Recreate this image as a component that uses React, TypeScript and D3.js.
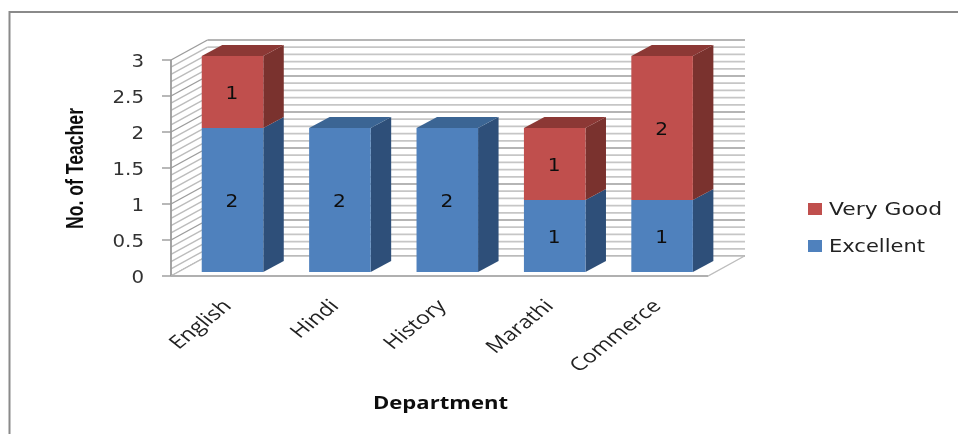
import React from "react";
import * as d3 from "d3";

const departments = ["English", "Hindi", "History", "Marathi", "Commerce"];
const excellent = [2, 2, 2, 1, 1];
const veryGood = [1, 0, 0, 1, 2];
const yTicks = [0, 0.5, 1, 1.5, 2, 2.5, 3];
const minorTicks = d3.range(0, 31).map((d) => d / 10);
const seriesNames = ["Excellent", "Very Good"];

const COLORS = {
  Excellent: { front: "#4F81BD", side: "#2F5079", top: "#3B6594" },
  "Very Good": { front: "#C0504D", side: "#7A302D", top: "#8C3935" },
} as Record<string, { front: string; side: string; top: string }>;

const DX = 36.5;
const DY = 20;
const BAR_DX = 20.5;
const BAR_DY = 11;
const BAR_DROP = 4;
const FONT = "'DejaVu Sans', sans-serif";

export default function App() {
  const y = d3.scaleLinear().domain([0, 3]).range([276, 60]);
  const x = d3.scaleBand<string>().domain(departments).range([178.8, 715.8]).paddingInner(0.427).paddingOuter(0.2135);
  const x0 = 171;
  const x1 = 708;
  const rows = departments.map((d, i) => ({ dept: d, Excellent: excellent[i], "Very Good": veryGood[i] }));
  const stacked = d3.stack<any>().keys(seriesNames)(rows);

  return (
    <svg width={958} height={434} style={{ position: "absolute", left: 0, top: 0, background: "#fff" }}>
      <defs>
        <filter id="soft" x="-2%" y="-2%" width="104%" height="104%">
          <feGaussianBlur stdDeviation="0.45" />
        </filter>
      </defs>
      <g filter="url(#soft)">
        <path d="M958,12 H9.5 V434" fill="none" stroke="#8a8a8a" strokeWidth={2} />

        {/* walls */}
        {minorTicks.map((t) => {
          const major = Math.abs(t * 2 - Math.round(t * 2)) < 1e-6;
          return (
            <g key={t} fill="none">
              <line x1={x0 + DX} x2={x1 + DX + 0.5} y1={y(t) - DY} y2={y(t) - DY} stroke={major ? "#9c9c9c" : "#c6c6c6"} strokeWidth={major ? 1.4 : 1.7} />
              <line x1={x0} x2={x0 + DX} y1={y(t)} y2={y(t) - DY} stroke={major ? "#9c9c9c" : "#bcbcbc"} strokeWidth={1.4} />
            </g>
          );
        })}
        <polygon
          points={`${x0},${y(0)} ${x0 + DX},${y(0) - DY} ${x1 + DX},${y(0) - DY} ${x1},${y(0)}`}
          fill="#fff"
          stroke="#bdbdbd"
          strokeWidth={1.4}
        />
        <line x1={x0} x2={x0} y1={y(3)} y2={y(0)} stroke="#9a9a9a" strokeWidth={1.8} />
        <line x1={x0} x2={x1} y1={y(0)} y2={y(0)} stroke="#b0b0b0" strokeWidth={1.8} />

        {/* y axis */}
        {yTicks.map((t) => (
          <g key={t}>
            <line x1={162} x2={x0} y1={y(t)} y2={y(t)} stroke="#9a9a9a" strokeWidth={1.4} />
            <text
              transform={`translate(144,${y(t) + 6.5}) scale(1.1,1)`}
              textAnchor="end"
              fontFamily={FONT}
              fontSize={18}
              fill="#333"
            >
              {t}
            </text>
          </g>
        ))}

        {/* bars */}
        {stacked.map((s) => {
          const c = COLORS[s.key];
          return s.map((d, i) => {
            if (d[1] === d[0]) return null;
            const left = x(departments[i])!;
            const right = left + x.bandwidth();
            const top = y(d[1]) - BAR_DROP;
            const bot = y(d[0]) - BAR_DROP;
            const isTop = d[1] === excellent[i] + veryGood[i];
            return (
              <g key={s.key + i}>
                <polygon
                  points={`${right},${top} ${right + BAR_DX},${top - BAR_DY} ${right + BAR_DX},${bot - BAR_DY} ${right},${bot}`}
                  fill={c.side}
                />
                {isTop && (
                  <polygon
                    points={`${left},${top} ${left + BAR_DX},${top - BAR_DY} ${right + BAR_DX},${top - BAR_DY} ${right},${top}`}
                    fill={c.top}
                  />
                )}
                <rect x={left} y={top} width={x.bandwidth()} height={bot - top} fill={c.front} />
                <text
                  transform={`translate(${(left + right) / 2 - 0.5},${(top + bot) / 2 + 6.5}) scale(1.15,1)`}
                  textAnchor="middle"
                  fontFamily={FONT}
                  fontSize={17.5}
                  fill="#111"
                >
                  {d[1] - d[0]}
                </text>
              </g>
            );
          });
        })}

        {/* category labels */}
        {departments.map((d) => {
          const cx = x(d)! + x.bandwidth() / 2;
          return (
            <text
              key={d}
              transform={`translate(${cx},${307}) scale(1.36,1.08) rotate(-45)`}
              textAnchor="end"
              fontFamily="'Open Sans', sans-serif"
              fontSize={17}
              fill="#222"
            >
              {d}
            </text>
          );
        })}

        {/* axis titles */}
        <text
          x={373}
          y={409}
          textLength={135}
          lengthAdjust="spacingAndGlyphs"
          fontFamily="'Open Sans', sans-serif"
          fontWeight="bold"
          fontSize={17}
          fill="#111"
        >
          Department
        </text>
        <text
          transform="translate(83,229) rotate(-90)"
          textLength={121}
          lengthAdjust="spacingAndGlyphs"
          fontFamily="'Liberation Sans', sans-serif"
          fontWeight="bold"
          fontSize={23}
          fill="#111"
        >
          No. of Teacher
        </text>

        {/* legend */}
        <rect x={808} y={203} width={14} height={12} fill={COLORS["Very Good"].front} />
        <text x={829} y={215} textLength={113} lengthAdjust="spacingAndGlyphs" fontFamily={FONT} fontSize={18} fill="#222">
          Very Good
        </text>
        <rect x={808} y={240} width={14} height={12} fill={COLORS.Excellent.front} />
        <text x={829} y={252} textLength={96} lengthAdjust="spacingAndGlyphs" fontFamily={FONT} fontSize={18} fill="#222">
          Excellent
        </text>
      </g>
    </svg>
  );
}
